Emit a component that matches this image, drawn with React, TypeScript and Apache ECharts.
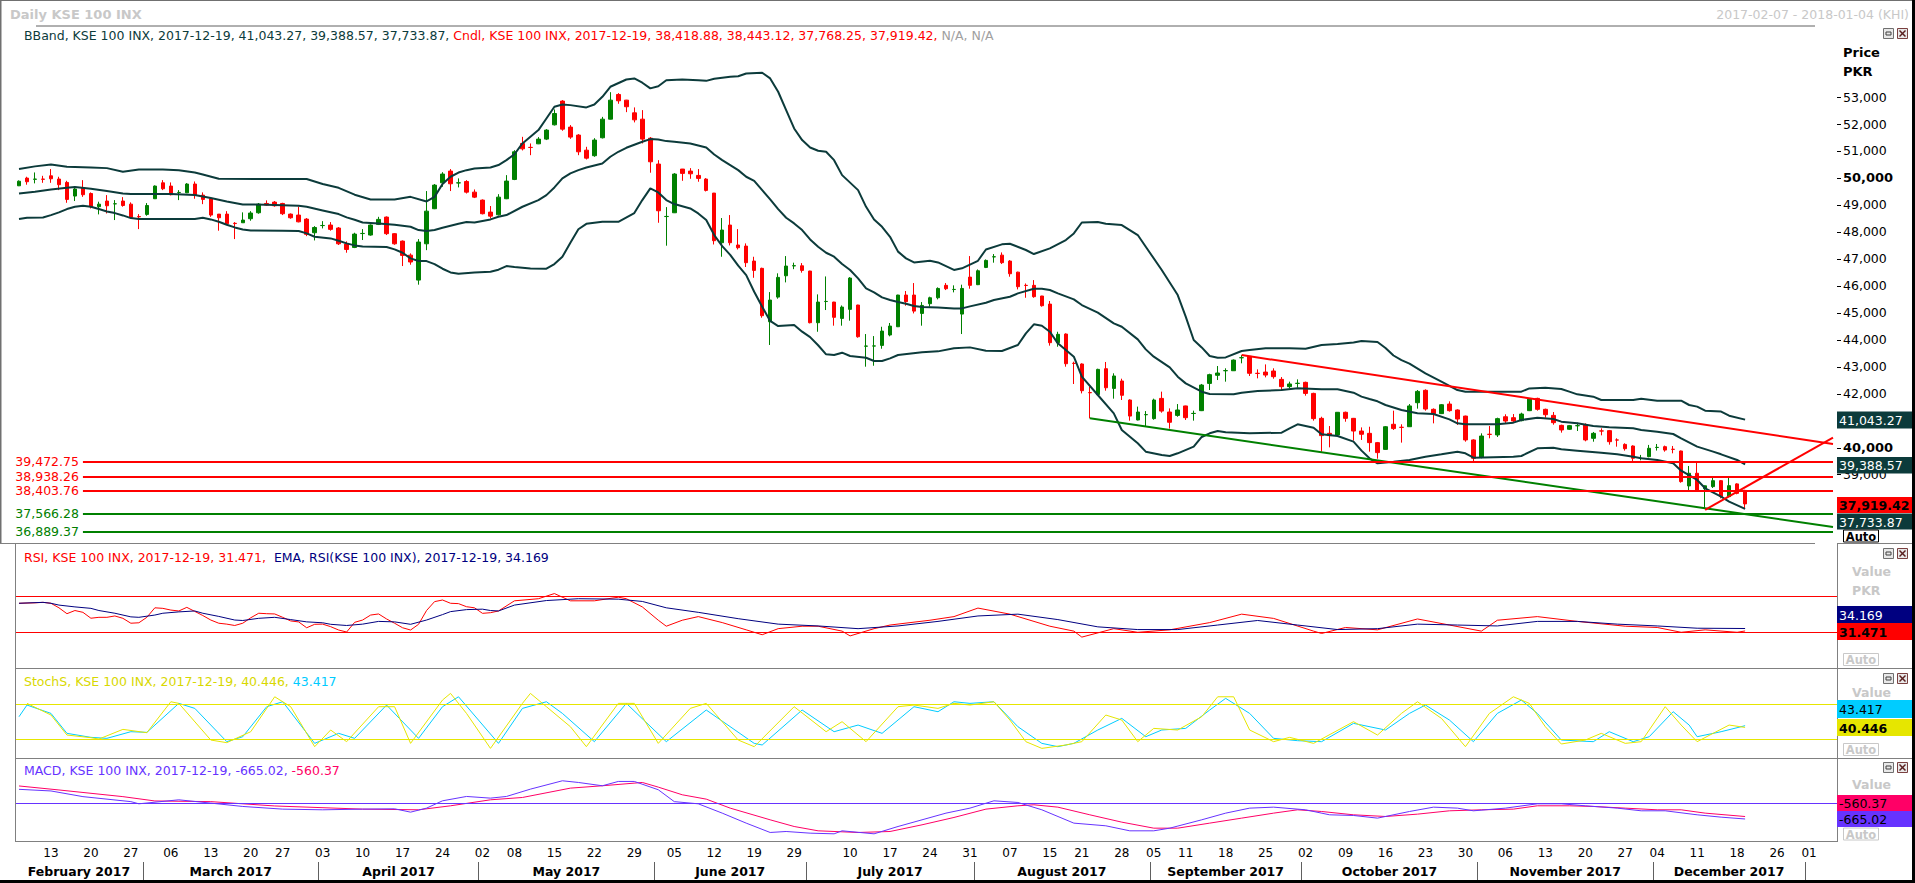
import React, { useEffect, useRef } from "react";
import * as echarts from "echarts";

const FONT = "'DejaVu Sans', Verdana, sans-serif";

// ---------- categories ----------
const HOLIDAYS = ["2017-03-23", "2017-05-01", "2017-06-26", "2017-06-27", "2017-06-28", "2017-08-14", "2017-09-01", "2017-09-04", "2017-12-01", "2017-12-25"];
function buildTradingDays(start: string, end: string, holidays: string[]): string[] {
  const out: string[] = [];
  const d = new Date(start + "T00:00:00Z");
  const e = new Date(end + "T00:00:00Z");
  while (d <= e) {
    const wd = d.getUTCDay();
    const s = d.toISOString().slice(0, 10);
    if (wd !== 0 && wd !== 6 && holidays.indexOf(s) < 0) out.push(s);
    d.setUTCDate(d.getUTCDate() + 1);
  }
  return out;
}
const DATES = buildTradingDays("2017-02-07", "2018-01-04", HOLIDAYS);

const DAY_LABELS = ["2017-02-13", "2017-02-20", "2017-02-27", "2017-03-06", "2017-03-13", "2017-03-20", "2017-03-27", "2017-04-03", "2017-04-10", "2017-04-17", "2017-04-24", "2017-05-02", "2017-05-08", "2017-05-15", "2017-05-22", "2017-05-29", "2017-06-05", "2017-06-12", "2017-06-19", "2017-06-29", "2017-07-10", "2017-07-17", "2017-07-24", "2017-07-31", "2017-08-07", "2017-08-15", "2017-08-21", "2017-08-28", "2017-09-05", "2017-09-11", "2017-09-18", "2017-09-25", "2017-10-02", "2017-10-09", "2017-10-16", "2017-10-23", "2017-10-30", "2017-11-06", "2017-11-13", "2017-11-20", "2017-11-27", "2017-12-04", "2017-12-11", "2017-12-18", "2017-12-26", "2018-01-01"];
const MONTH_NAMES = ["February 2017", "March 2017", "April 2017", "May 2017", "June 2017", "July 2017", "August 2017", "September 2017", "October 2017", "November 2017", "December 2017"];
const LAST_LABELLED_DAY = "2017-12-29";
const PRICE_TICKS = [37000, 38000, 39000, 40000, 41000, 42000, 43000, 44000, 45000, 46000, 47000, 48000, 49000, 50000, 51000, 52000, 53000];
// labels hidden behind the value boxes in the reference are left out
const PRICE_LABELS = [39000, 40000, 42000, 43000, 44000, 45000, 46000, 47000, 48000, 49000, 50000, 51000, 52000, 53000];

// ---------- candles [open, close, low, high], one per trading day ----------
const CANDLES: number[][] = [
  [49710, 49880, 49700, 49910], [49995, 49860, 49750, 50045], [49950, 49960, 49800, 50205], [49960, 49950, 49820, 50080], [50080, 49970, 49820, 50330],
  [49960, 49750, 49550, 50045], [49835, 49205, 49080, 49895], [49330, 49590, 49145, 49650], [49635, 49380, 49300, 49920], [49425, 48935, 48870, 49465],
  [48935, 49030, 48650, 49120], [49145, 48970, 48685, 49365], [49040, 49045, 48440, 49180], [49145, 48980, 48935, 49290], [49030, 48540, 48500, 49095],
  [48570, 48560, 48105, 48660], [48650, 48980, 48600, 49070], [49230, 49700, 49225, 49725], [49820, 49600, 49550, 49920], [49700, 49380, 49355, 49835],
  [49460, 49465, 49180, 49550], [49450, 49775, 49440, 49810], [49775, 49365, 49230, 49870], [49365, 49205, 49030, 49465], [49230, 48625, 48560, 49290],
  [48660, 48525, 48045, 48665], [48660, 48305, 48255, 48770], [48320, 48310, 47735, 48365], [48340, 48440, 48335, 48725], [48490, 48700, 48415, 48770],
  [48710, 49030, 48675, 49070], [49055, 48995, 48970, 49170], [49105, 48970, 48935, 49145], [49055, 48675, 48625, 49080], [48660, 48525, 48490, 48685],
  [48625, 48375, 48355, 48935], [48475, 47910, 47845, 48515], [47970, 48165, 47685, 48215], [48235, 48240, 48130, 48400], [48255, 48095, 48045, 48365],
  [48145, 47560, 47515, 48180], [47550, 47350, 47230, 47650], [47425, 47920, 47400, 47970], [47940, 47945, 47700, 48105], [47885, 48255, 47860, 48280],
  [48280, 48465, 48255, 48560], [48550, 47935, 47885, 48575], [47935, 47560, 47525, 47955], [47660, 47130, 46735, 47685], [47140, 46885, 46785, 47205],
  [46215, 47625, 46045, 47735], [47560, 48770, 47325, 49515], [48860, 49735, 48845, 49775], [49820, 50145, 49675, 50215], [50255, 49785, 49515, 50330],
  [49815, 49820, 49650, 49985], [49870, 49475, 49425, 49920], [49475, 49290, 49255, 49575], [49180, 48675, 48650, 49205], [48735, 48585, 48500, 48960],
  [48635, 49290, 48610, 49400], [49230, 49885, 49215, 50105], [49945, 50970, 49920, 51030], [51280, 51080, 51020, 51525], [51135, 51130, 50845, 51280],
  [51265, 51440, 51255, 51515], [51440, 51775, 51405, 51810], [51970, 52390, 51945, 52540], [52850, 51810, 51750, 52885], [51885, 51515, 51450, 51960],
  [51590, 50970, 50845, 51625], [51030, 50735, 50685, 51155], [50825, 51405, 50785, 51475], [51490, 52180, 51465, 52265], [52180, 52885, 52170, 53180],
  [53095, 52860, 52750, 53145], [52885, 52640, 52440, 52895], [52415, 52155, 52060, 52615], [52180, 51440, 51280, 52515], [51475, 50600, 50195, 51515],
  [50515, 48785, 48340, 50660], [48570, 48575, 47490, 48920], [48710, 50145, 48700, 50180], [50330, 50170, 49895, 50335], [50255, 50155, 49970, 50365],
  [50095, 49985, 49860, 50330], [49960, 49540, 49500, 49995], [49440, 47675, 47535, 49445], [47600, 48070, 47080, 48515], [48255, 47600, 47500, 48625],
  [47515, 47415, 47350, 48105], [47475, 46860, 46700, 47575], [46920, 46575, 46300, 47080], [46650, 44895, 44820, 46675], [44670, 45475, 43810, 45770],
  [45585, 46315, 45525, 46465], [46375, 46735, 46130, 47105], [46740, 46750, 46620, 46860], [46745, 46575, 46490, 46845], [46550, 44635, 44610, 46560],
  [44635, 45400, 44300, 45685], [45420, 45425, 45105, 46350], [45400, 44835, 44525, 45410], [44795, 45215, 44525, 45275], [45130, 46290, 44710, 46325],
  [45290, 44115, 44080, 45300], [43765, 43770, 43005, 44215], [43770, 43775, 43040, 44140], [43795, 44325, 43670, 44485], [44180, 44510, 44130, 44625],
  [44485, 45660, 44475, 45670], [45660, 45415, 45265, 45810], [45660, 45065, 44980, 46105], [44980, 45275, 44525, 45400], [45340, 45560, 45230, 45600],
  [45560, 45905, 45500, 45945], [46020, 45895, 45845, 46105], [45865, 45870, 45760, 46020], [44955, 45905, 44215, 46045], [46325, 46020, 45895, 47105],
  [46045, 46560, 46030, 46610], [46685, 46945, 46660, 46980], [47075, 47080, 46860, 47180], [47140, 46860, 46810, 47240], [46920, 46450, 46340, 46955],
  [46510, 45970, 45870, 46525], [46020, 46015, 45560, 46090], [46020, 45600, 45560, 46215], [45625, 45265, 45230, 45630], [45325, 43895, 43785, 45440],
  [43895, 44205, 43745, 44300], [44215, 43115, 43005, 44240], [43130, 43125, 42363, 43190], [43105, 42115, 42015, 43130], [42045, 42040, 41090, 42265],
  [41970, 42905, 41955, 42930], [42930, 42225, 42115, 43180], [42200, 42660, 41820, 42760], [42475, 41945, 41770, 42560], [41770, 41175, 41005, 41795],
  [41030, 41325, 41015, 41525], [41225, 41230, 40805, 41360], [41080, 41770, 41040, 41820], [41830, 41360, 41300, 42080], [41325, 40945, 40710, 41460],
  [41200, 41400, 41150, 41620], [41550, 41115, 41030, 41560], [41270, 41275, 41005, 41375], [41375, 42325, 41360, 42365], [42385, 42710, 42140, 42745],
  [42685, 42770, 42510, 43030], [42855, 42860, 42450, 42945], [42855, 43250, 42845, 43275], [43335, 43340, 43130, 43435], [43390, 42760, 42660, 43400],
  [42760, 42755, 42573, 42906], [42805, 42695, 42610, 43090], [42845, 42635, 42560, 42945], [42535, 42265, 42130, 42620], [42265, 42365, 42200, 42450],
  [42385, 42390, 42225, 42535], [42425, 42015, 41930, 42450], [42015, 41080, 41005, 42040], [41090, 40450, 39855, 41150], [40535, 40450, 40015, 40805],
  [40475, 41315, 40460, 41325], [41315, 41090, 40965, 41340], [41090, 40620, 40265, 41105], [40620, 40500, 40290, 40755], [40535, 40190, 39855, 40780],
  [40190, 39820, 39595, 40215],
  [39940, 40780, 39930, 40805], [40870, 40710, 40660, 41375], [40760, 40755, 40190, 40870], [40780, 41550, 40770, 41620], [41670, 42090, 41450, 42140],
  [42130, 41435, 41375, 42165], [41425, 41265, 40905, 41460], [41265, 41595, 41250, 41620], [41620, 41375, 41340, 41720], [41400, 41065, 40845, 41425],
  [41175, 40290, 40225, 41190], [40290, 39610, 39485, 40315], [39645, 40435, 39610, 40535], [40500, 40495, 40350, 40805], [40475, 41080, 40400, 41115],
  [41150, 40990, 40920, 41240], [41115, 40990, 40940, 41250], [41005, 41250, 40980, 41300], [41375, 41805, 41360, 41820], [41830, 41425, 41375, 41855],
  [41425, 41225, 41115, 41450], [41200, 40930, 40855, 41325], [40830, 40660, 40560, 40855], [40685, 40820, 40660, 40845], [40815, 40820, 40621, 40930],
  [40845, 40290, 40240, 40905], [40350, 40535, 40225, 40585], [40625, 40620, 40460, 40720], [40635, 40225, 40115, 40660], [40290, 40285, 40041, 40350],
  [40125, 39965, 39895, 40165], [40065, 39610, 39510, 40090], [39605, 39610, 39535, 39735], [39670, 39980, 39645, 40105], [40010, 40015, 39895, 40140],
  [40040, 39915, 39855, 40080], [39945, 39940, 39794, 40066], [39880, 38745, 38705, 39895], [38585, 39055, 38410, 39325], [39055, 38435, 38360, 39450],
  [38480, 38590, 37757, 38600], [38560, 38780, 38510, 38905], [38780, 38190, 38125, 38805], [38190, 38595, 38165, 38930], [38660, 38310, 38275, 38685],
  [38418.88, 37919.42, 37768.25, 38443.12],
];

// ---------- Bollinger band readings [trading-day index, value] ----------
const BB_UPPER = [[0, 50330], [2, 50430], [4, 50500], [6, 50415], [9, 50390], [11, 50365], [13, 50230], [15, 50315], [18, 50315], [20, 50290], [22, 50200], [23, 50130], [25, 49970], [30, 49960], [36, 49960], [38, 49775], [40, 49635], [42, 49380], [44, 49205], [47, 49205], [49, 49300], [51, 49130], [52, 49300], [53, 49775], [54, 50045], [55, 50200], [56, 50290], [57, 50350], [59, 50390], [60, 50480], [61, 50660], [62, 50880], [63, 51280], [65, 51775], [66, 52205], [67, 52640], [68, 52725], [69, 52700], [71, 52615], [72, 52725], [73, 53010], [74, 53380], [76, 53650], [77, 53690], [78, 53530], [79, 53320], [80, 53400], [81, 53625], [83, 53650], [85, 53625], [86, 53600], [87, 53680], [89, 53750], [90, 53770], [91, 53870], [93, 53900], [94, 53690], [95, 53195], [96, 52515], [97, 51835], [98, 51405], [99, 51130], [100, 51010], [101, 50970], [102, 50660], [103, 50105], [105, 49550], [106, 48930], [107, 48460], [108, 48190], [109, 47820], [110, 47270], [111, 47020], [112, 46870], [114, 46930], [115, 46870], [117, 46590], [118, 46650], [120, 46930], [121, 47350], [123, 47540], [124, 47560], [126, 47330], [127, 47180], [129, 47390], [131, 47700], [132, 47945], [133, 48350], [135, 48365], [136, 48305], [138, 48255], [140, 47885], [141, 47450], [143, 46590], [145, 45660], [146, 44860], [147, 43995], [148, 43720], [149, 43400], [150, 43340], [151, 43350], [153, 43585], [154, 43620], [156, 43685], [159, 43685], [161, 43670], [163, 43810], [165, 43845], [167, 43905], [168, 43955], [170, 43920], [171, 43700], [172, 43420], [173, 43250], [174, 43120], [176, 42760], [178, 42450], [180, 42140], [181, 42080], [188, 42080], [189, 42200], [191, 42225], [193, 42180], [194, 42080], [195, 41980], [197, 41895], [198, 41770], [202, 41770], [203, 41820], [205, 41745], [208, 41745], [209, 41585], [210, 41525], [211, 41375], [213, 41340], [214, 41190], [216, 41043.27]];
const BB_MIDDLE = [[0, 49427], [2, 49489], [4, 49575], [6, 49637], [7, 49662], [9, 49600], [11, 49514], [13, 49427], [14, 49402], [19, 49402], [22, 49365], [24, 49254], [26, 49131], [28, 49020], [31, 49007], [35, 48970], [36, 48933], [38, 48797], [40, 48661], [41, 48538], [42, 48451], [43, 48352], [45, 48316], [47, 48266], [49, 48192], [50, 48069], [51, 48031], [52, 48069], [53, 48155], [54, 48229], [55, 48303], [56, 48365], [57, 48352], [59, 48464], [60, 48562], [61, 48624], [63, 48933], [65, 49180], [66, 49365], [67, 49649], [68, 49983], [69, 50168], [70, 50291], [71, 50390], [73, 50539], [74, 50786], [75, 50971], [76, 51119], [78, 51341], [79, 51440], [80, 51428], [81, 51366], [82, 51341], [84, 51279], [85, 51205], [86, 51131], [87, 50872], [88, 50662], [89, 50477], [90, 50291], [91, 50045], [92, 49896], [93, 49550], [94, 49205], [95, 48847], [96, 48526], [97, 48316], [98, 48069], [99, 47723], [100, 47451], [101, 47229], [102, 47081], [103, 46809], [104, 46587], [105, 46278], [106, 45907], [107, 45759], [108, 45574], [109, 45475], [110, 45401], [111, 45339], [112, 45253], [113, 45216], [115, 45203], [117, 45166], [118, 45166], [119, 45240], [121, 45376], [122, 45475], [124, 45599], [125, 45722], [127, 45895], [128, 45895], [129, 45846], [130, 45722], [132, 45500], [133, 45290], [135, 45006], [137, 44610], [138, 44487], [140, 44018], [141, 43647], [142, 43376], [144, 42980], [145, 42635], [146, 42387], [148, 42079], [149, 41992], [152, 41980], [153, 42042], [155, 42103], [158, 42140], [160, 42202], [163, 42165], [165, 42165], [167, 42042], [168, 41894], [169, 41807], [170, 41721], [171, 41585], [173, 41400], [175, 41276], [177, 41252], [179, 41054], [180, 40906], [181, 40869], [185, 40869], [187, 40931], [188, 41029], [190, 41115], [192, 41066], [193, 40967], [195, 40906], [197, 40807], [199, 40757], [202, 40720], [203, 40659], [205, 40597], [207, 40510], [208, 40350], [210, 40041], [212, 39856], [213, 39757], [215, 39547], [216, 39388.57]];
const BB_LOWER = [[0, 48476], [1, 48526], [3, 48538], [4, 48624], [5, 48723], [6, 48847], [7, 48933], [8, 48970], [9, 48933], [10, 48847], [11, 48760], [12, 48698], [13, 48612], [14, 48513], [15, 48476], [22, 48476], [23, 48526], [24, 48464], [25, 48377], [26, 48266], [27, 48167], [28, 48093], [29, 48056], [33, 48044], [35, 48032], [36, 47945], [37, 47822], [39, 47760], [40, 47673], [41, 47575], [42, 47501], [43, 47463], [46, 47439], [47, 47352], [48, 47229], [49, 47019], [50, 46920], [51, 46920], [52, 46809], [53, 46636], [54, 46500], [55, 46451], [57, 46500], [59, 46525], [60, 46600], [61, 46735], [62, 46700], [64, 46648], [66, 46636], [67, 46809], [68, 47080], [69, 47600], [70, 48100], [71, 48300], [73, 48377], [75, 48377], [77, 48700], [78, 49180], [79, 49612], [80, 49464], [81, 49180], [82, 49032], [84, 48871], [85, 48686], [86, 48439], [87, 47883], [88, 47476], [89, 47150], [90, 46750], [91, 46400], [92, 45784], [93, 45228], [94, 44700], [95, 44512], [97, 44549], [98, 44302], [99, 44100], [100, 43800], [101, 43462], [102, 43437], [103, 43524], [104, 43400], [106, 43338], [107, 43215], [108, 43215], [109, 43314], [110, 43437], [113, 43536], [115, 43573], [117, 43690], [119, 43721], [121, 43598], [123, 43585], [125, 43808], [126, 44240], [127, 44574], [128, 44524], [129, 44302], [130, 43870], [132, 43376], [133, 42635], [135, 41955], [137, 41276], [138, 40659], [140, 40165], [141, 39856], [143, 39732], [144, 39695], [145, 39794], [147, 40041], [148, 40400], [149, 40535], [150, 40621], [151, 40572], [154, 40535], [158, 40560], [159, 40720], [160, 40869], [162, 40745], [163, 40498], [165, 40436], [167, 40226], [168, 39893], [169, 39609], [170, 39424], [172, 39485], [174, 39547], [176, 39670], [178, 39757], [180, 39856], [181, 39794], [182, 39634], [187, 39670], [188, 39695], [190, 39980], [192, 40004], [193, 39942], [195, 39893], [198, 39819], [200, 39757], [202, 39670], [203, 39609], [205, 39547], [207, 39424], [208, 39152], [210, 38806], [211, 38497], [213, 38188], [214, 38003], [216, 37733.87]];

// ---------- drawn objects ----------
const LEVELS_RED = [39472.75, 38938.26, 38403.76];
const LEVELS_GREEN = [37566.28, 36889.37];
const TREND_RED_DOWN = [[153, 43435], [227, 40140]];
const TREND_GREEN_DOWN = [[134, 41090], [227, 37065]];
const TREND_RED_UP = [[211, 37700], [227, 40380]];

// ---------- RSI ----------
const RSI = [[0, 62], [2, 62.5], [3, 63], [4, 62], [5, 57], [6, 50.5], [7, 54], [8, 52], [9, 45.5], [10, 46.5], [11, 46.5], [12, 48], [13, 45.4], [14, 40], [15, 40.5], [16, 46.5], [17, 57], [18, 56.4], [19, 54.5], [20, 53.5], [21, 57.5], [22, 53], [23, 48.5], [24, 43.5], [25, 40], [26, 39], [27, 37.5], [28, 40], [29, 46], [30, 51], [31, 50.5], [32, 50.2], [33, 46.5], [34, 42.5], [35, 41.4], [36, 35], [37, 38.8], [38, 39], [39, 36.2], [40, 32.5], [41, 30.3], [42, 41], [43, 43.5], [44, 49], [45, 50.2], [46, 44.7], [47, 40], [48, 35], [49, 32.5], [50, 38.8], [51, 54], [52, 63.8], [53, 65.6], [54, 62], [55, 61.6], [56, 58.2], [57, 57], [58, 50.9], [59, 51.6], [60, 53.5], [62, 64.7], [65, 67], [67, 72.7], [69, 64.7], [72, 64.7], [75, 68.7], [76, 67], [78, 58], [80, 43.3], [81, 36.7], [83, 43.3], [85, 47.3], [88, 40.7], [91, 32.7], [93, 27.3], [95, 34], [98, 36.7], [100, 36.7], [103, 31.3], [104, 26], [107, 34], [109, 38], [114, 43.3], [117, 47.3], [120, 56.7], [124, 50], [129, 36.7], [132, 31.3], [133, 24.7], [137, 34], [140, 30], [144, 32.7], [149, 40.7], [153, 50], [157, 45.3], [162, 31.3], [163, 28.7], [166, 35.3], [170, 32.7], [175, 44.7], [179, 38], [183, 31.3], [185, 43.3], [190, 47.3], [195, 42], [201, 36.7], [205, 35.3], [208, 30], [211, 32.7], [215, 30], [216, 31.471]];
const RSI_EMA = [[0, 62], [3, 63], [4, 62], [5, 60], [7, 58], [9, 56.4], [10, 54], [12, 51], [14, 47], [15, 46.5], [17, 49], [18, 51], [20, 52.5], [22, 53.5], [23, 51], [25, 47.5], [27, 43.5], [28, 43], [30, 45.4], [32, 46.5], [34, 44], [36, 41.5], [38, 40.5], [39, 38.8], [41, 37.5], [43, 39], [45, 42], [47, 41.5], [49, 38.8], [51, 43.5], [53, 49.5], [54, 52.8], [56, 55], [58, 55.5], [59, 54], [60, 53.5], [62, 60], [66, 65], [70, 67], [75, 66.5], [78, 64], [81, 57], [85, 52], [90, 45], [95, 39], [100, 37], [105, 34], [110, 37], [115, 42], [120, 48], [125, 50], [130, 44], [135, 36], [140, 33], [145, 33], [150, 38], [155, 43], [160, 38], [165, 33], [170, 34], [175, 39], [180, 38], [185, 37], [190, 42], [195, 42], [200, 39], [205, 37], [210, 34.5], [216, 34.169]];
const RSI_LEVELS = [70, 30];

// ---------- Stochastic ----------
const STOCH_K = [[1, 81.7], [4, 61.7], [6, 27.4], [9, 22.8], [10, 20.5], [13, 37.1], [16, 31.4], [19, 84.5], [20, 81.7], [24, 18.8], [26, 14.3], [29, 33.1], [32, 93], [34, 76], [37, 7.4], [39, 36], [41, 16], [45, 76], [47, 76], [49, 13.1], [53, 87.4], [54, 98.8], [56, 64.5], [59, 4.5], [63, 81.7], [64, 98.8], [66, 76], [69, 41.7], [71, 7.4], [75, 81.7], [77, 81.7], [80, 13.1], [84, 73.1], [86, 81.7], [90, 18.8], [92, 7.4], [97, 76], [101, 33.1], [103, 50.3], [106, 16], [110, 76], [112, 78.8], [115, 73.1], [117, 81.7], [119, 78.8], [122, 84.5], [124, 53.1], [126, 16], [128, 4.5], [131, 10.3], [133, 16], [136, 61.7], [138, 53.1], [140, 16], [142, 38.8], [145, 36], [148, 58.8], [150, 93], [152, 93], [154, 36], [157, 16], [159, 23.4], [162, 13.1], [167, 50.3], [170, 27.4], [173, 64.5], [175, 84.5], [178, 56], [181, 7.4], [184, 64.5], [187, 93], [189, 81.7], [191, 41.7], [193, 12], [196, 18.8], [198, 30.3], [201, 13.1], [203, 16], [206, 76], [208, 44.5], [210, 16], [212, 30.3], [214, 44.5], [216, 40.446]];
const STOCH_D = [[0, 58.8], [1, 78.8], [4, 64.5], [6, 30.3], [9, 23.4], [11, 21.7], [14, 33.1], [16, 32], [20, 81.7], [22, 73.1], [26, 16], [28, 24.5], [31, 76], [33, 84.5], [37, 13.1], [40, 30.3], [42, 21.7], [46, 78.8], [50, 21.7], [53, 76], [55, 93], [60, 13.1], [63, 73.1], [66, 84.5], [68, 64.5], [72, 16], [76, 81.7], [81, 16], [86, 70.3], [92, 13.1], [93, 10.3], [98, 70.3], [102, 33.1], [105, 44.5], [108, 30.3], [112, 76], [115, 67.4], [117, 84.5], [119, 81.7], [122, 84.5], [125, 41.7], [128, 13.1], [130, 7.4], [132, 13.1], [135, 36], [138, 56], [141, 24.5], [143, 36], [146, 38.8], [149, 70.3], [151, 90.3], [154, 64.5], [157, 21.7], [160, 17.7], [163, 16], [167, 47.4], [171, 36], [174, 64.5], [176, 78.8], [179, 53.1], [182, 16], [185, 64.5], [188, 87.4], [190, 64.5], [193, 18.8], [197, 16], [199, 33.1], [202, 16], [204, 24.5], [207, 67.4], [209, 44.5], [210, 24.5], [213, 33.1], [216, 43.417]];
const STOCH_LEVELS = [80, 20];

// ---------- MACD ----------
const MACD = [[0, 593], [4, 523], [8, 283], [14, 71], [15, -21], [20, 148], [24, 8], [28, -134], [33, -247], [38, -276], [43, -247], [47, -233], [49, -375], [51, -205], [53, 106], [56, 290], [59, 219], [61, 290], [64, 601], [68, 955], [70, 884], [73, 743], [75, 927], [77, 927], [80, 574], [82, 71], [85, -21], [88, -417], [91, -841], [94, -1237], [96, -1195], [99, -1266], [102, -1294], [103, -1167], [107, -1294], [110, -983], [113, -700], [116, -417], [119, -205], [122, 106], [125, 35], [128, -276], [132, -841], [136, -954], [139, -1167], [142, -1167], [144, -1054], [148, -700], [151, -417], [154, -205], [157, -163], [161, -276], [164, -488], [167, -516], [170, -629], [174, -347], [177, -163], [180, -205], [182, -318], [186, -205], [190, -21], [193, -21], [196, -106], [200, -205], [203, -318], [206, -318], [210, -488], [213, -587], [216, -665.02]];
const MACD_SIGNAL = [[0, 735], [5, 566], [13, 283], [17, 99], [24, 71], [32, -113], [43, -247], [50, -276], [54, -106], [59, 148], [63, 247], [69, 643], [73, 743], [78, 884], [80, 686], [83, 361], [86, 177], [89, -205], [94, -700], [97, -983], [100, -1167], [105, -1237], [109, -1195], [113, -912], [117, -600], [121, -247], [125, -106], [127, -63], [130, -163], [134, -488], [138, -799], [142, -1054], [145, -1054], [149, -841], [153, -629], [157, -417], [160, -276], [163, -347], [167, -488], [171, -559], [175, -460], [179, -318], [183, -276], [187, -247], [190, -106], [194, -106], [197, -134], [201, -205], [205, -276], [208, -276], [211, -417], [216, -560.37]];

// ---------- helpers ----------
function fmt(v: number, d = 2): string {
  const s = Math.abs(v).toFixed(d);
  const [a, b] = s.split(".");
  const withComma = a.replace(/\B(?=(\d{3})+(?!\d))/g, ",");
  return (v < 0 ? "-" : "") + withComma + (b ? "." + b : "");
}
const last = (arr: number[][]) => arr[arr.length - 1][1];

const COL = {
  teal: "#0c3b3b",
  up: "#008000",
  down: "#ff0000",
  navy: "#000080",
  yellow: "#e6e600",
  cyan: "#00ccff",
  purple: "#6633ff",
  pink: "#ff0066",
  gray: "#c8c8c8",
  frame: "#808080",
};

export default function App() {
  const ref = useRef<HTMLDivElement>(null);
  useEffect(() => {
    if (!ref.current) return;
    const chart = echarts.init(ref.current, null, { renderer: "svg" });

    const N = DATES.length;
    const L = 15;
    const W = 1822;
    const lastIdx = CANDLES.length - 1;

    // month spans
    const months: any[] = [];
    DATES.forEach((d, i) => {
      const key = d.slice(0, 7);
      const m = months.length ? months[months.length - 1] : null;
      if (!m || m.key !== key) months.push({ key, first: i, last: i });
      else m.last = i;
    });
    const boundaries = months.slice(1).map((m) => m.first - 0.5);
    const lastLabelled = DATES.indexOf(LAST_LABELLED_DAY);
    const centers = months.slice(0, MONTH_NAMES.length).map((m) => (m.first + Math.min(m.last, lastLabelled)) / 2);

    const lastC = CANDLES[lastIdx];

    const hidY = (gi: number, min: number, max: number) => ({
      type: "value", gridIndex: gi, min, max, position: "right",
      axisLine: { show: false }, axisTick: { show: false }, axisLabel: { show: false }, splitLine: { show: false },
    });
    const hidX = (gi: number) => ({
      type: "category", gridIndex: gi, data: DATES, boundaryGap: true,
      axisLine: { show: false }, axisTick: { show: false }, axisLabel: { show: false }, splitLine: { show: false },
    });
    const lineS = (name: string, data: any, xi: number, color: string, width: number, extra: any = {}) => ({
      type: "line", name, data, xAxisIndex: xi, yAxisIndex: xi, symbol: "none", showSymbol: false, silent: true,
      lineStyle: { color, width }, itemStyle: { color }, z: 3, ...extra,
    });
    const hMark = (vals: number[], color: string) => ({
      symbol: ["none", "none"], silent: true, label: { show: false },
      lineStyle: { color, width: 1, type: "solid" },
      data: vals.map((v) => ({ yAxis: v })),
    });

    const levelMarks = [
      ...LEVELS_RED.map((v) => ({ v, c: "#ff0000" })),
      ...LEVELS_GREEN.map((v) => ({ v, c: "#008000" })),
    ].map(({ v, c }) => [
      { coord: [DATES[8], v], lineStyle: { color: c, width: 2, type: "solid" }, label: { show: true, position: "start", distance: 4, formatter: fmt(v), color: c, fontSize: 12.5, fontFamily: FONT } },
      { coord: [DATES[N - 1], v] },
    ]);

    // ---------- graphics ----------
    const G: any[] = [];
    const hl = (x1: number, x2: number, y: number, c: string, w = 1) => G.push({ type: "line", silent: true, z: 100, shape: { x1, y1: y, x2, y2: y }, style: { stroke: c, lineWidth: w } });
    const vl = (x: number, y1: number, y2: number, c: string, w = 1) => G.push({ type: "line", silent: true, z: 100, shape: { x1: x, y1, x2: x, y2 }, style: { stroke: c, lineWidth: w } });
    const txt = (x: number, y: number, t: string, fill: string, size = 12.5, weight = "normal", align = "left") =>
      G.push({ type: "text", silent: true, z: 101, x, y, style: { text: t, fill, fontSize: size, fontFamily: FONT, fontWeight: weight, align, verticalAlign: "middle", textAlign: align, textVerticalAlign: "middle" } });
    const rich = (x: number, y: number, parts: [string, string][]) => {
      const richDef: any = {};
      let t = "";
      parts.forEach(([s, c], i) => {
        richDef["p" + i] = { fill: c, color: c, fontSize: 12.5, fontFamily: FONT };
        t += "{p" + i + "|" + s + "}";
      });
      G.push({ type: "text", silent: true, z: 101, x, y, style: { text: t, rich: richDef, fontSize: 12.5, fontFamily: FONT, verticalAlign: "middle", textVerticalAlign: "middle" } });
    };
    const box = (y: number, h: number, bg: string, t: string, fg: string, weight = "normal") => {
      G.push({ type: "rect", silent: true, z: 100, shape: { x: 1837, y, width: 75, height: h }, style: { fill: bg } });
      txt(1839, y + h / 2 + 0.5, t, fg, 12.5, weight);
    };
    const autoBox = (y: number, dark: boolean) => {
      G.push({ type: "rect", silent: true, z: 100, shape: { x: 1843.5, y: y + 0.5, width: 35, height: 12 }, style: { fill: "#fff", stroke: dark ? "#000" : "#c8c8c8", lineWidth: 1 } });
      txt(1861, y + 7, "Auto", dark ? "#000" : "#c8c8c8", 11.5, "bold", "center");
    };
    const buttons = (y: number) => {
      G.push({ type: "rect", silent: true, z: 100, shape: { x: 1883.5, y: y + 0.5, width: 10, height: 10 }, style: { fill: "#e8e8e8", stroke: "#707070", lineWidth: 1 } });
      G.push({ type: "rect", silent: true, z: 100, shape: { x: 1886, y: y + 4, width: 5, height: 3 }, style: { fill: "none", stroke: "#404040", lineWidth: 1 } });
      G.push({ type: "rect", silent: true, z: 100, shape: { x: 1897.5, y: y + 0.5, width: 10, height: 10 }, style: { fill: "#e8e8e8", stroke: "#7a4040", lineWidth: 1 } });
      G.push({ type: "line", silent: true, z: 101, shape: { x1: 1899.5, y1: y + 2.5, x2: 1905.5, y2: y + 8.5 }, style: { stroke: "#5a2020", lineWidth: 1.5 } });
      G.push({ type: "line", silent: true, z: 101, shape: { x1: 1905.5, y1: y + 2.5, x2: 1899.5, y2: y + 8.5 }, style: { stroke: "#5a2020", lineWidth: 1.5 } });
    };

    const day = DATES[lastIdx];

    // window frame
    vl(0.5, 0, 543, "#707070", 2);
    hl(0, 1915, 0.5, "#707070", 1);
    vl(1913.5, 0, 883, "#000", 3);
    hl(0, 1915, 881.5, "#000", 3);
    // title row
    txt(10, 14, "Daily KSE 100 INX", COL.gray, 13, "bold");
    txt(1909, 14, DATES[0] + " - " + DATES[N - 1] + " (KHI)", COL.gray, 12.5, "normal", "right");
    hl(36, 1815, 26, "#606060", 1);
    buttons(28);
    // main legend
    rich(24, 35, [
      ["BBand, KSE 100 INX, " + day + ", " + fmt(last(BB_UPPER)) + ", " + fmt(last(BB_MIDDLE)) + ", " + fmt(last(BB_LOWER)) + ", ", COL.teal],
      ["Cndl, KSE 100 INX, " + day + ", " + fmt(lastC[0]) + ", " + fmt(lastC[3]) + ", " + fmt(lastC[2]) + ", " + fmt(lastC[1]) + ", ", "#ff0000"],
      ["N/A, N/A", "#a0a0a0"],
    ]);
    txt(1843, 52, "Price", "#000", 13, "bold");
    txt(1843, 71, "PKR", "#000", 13, "bold");
    box(411.5, 17, COL.teal, fmt(last(BB_UPPER)), "#fff");
    box(457, 16.5, COL.teal, fmt(last(BB_MIDDLE)), "#fff");
    box(497, 16, "#ff0000", fmt(lastC[1]), "#000", "bold");
    box(513.5, 16, COL.teal, fmt(last(BB_LOWER)), "#fff");
    autoBox(529.5, true);

    // panel frames
    hl(0, 1815, 543.5, COL.frame, 1);
    hl(1837, 1912, 543.5, COL.frame, 1);
    hl(15, 1912, 668.5, COL.frame, 1);
    hl(15, 1912, 758.5, COL.frame, 1);
    hl(15, 1837, 841.5, COL.frame, 1);
    vl(15.5, 543, 842, COL.frame, 1);
    vl(1837.5, 543, 842, COL.frame, 1);

    // RSI panel
    rich(24, 557, [
      ["RSI, KSE 100 INX, " + day + ", " + last(RSI).toFixed(3) + ",  ", "#ff0000"],
      ["EMA, RSI(KSE 100 INX), " + day + ", " + last(RSI_EMA).toFixed(3), COL.navy],
    ]);
    buttons(548);
    txt(1852, 571, "Value", COL.gray, 12.5, "bold");
    txt(1852, 590, "PKR", COL.gray, 12.5, "bold");
    box(606, 17, COL.navy, last(RSI_EMA).toFixed(3), "#fff");
    box(623, 17, "#ff0000", last(RSI).toFixed(3), "#000", "bold");
    autoBox(653, false);

    // Stoch panel
    rich(24, 681, [
      ["StochS, KSE 100 INX, " + day + ", " + last(STOCH_K).toFixed(3) + ", ", "#d8d800"],
      [last(STOCH_D).toFixed(3), COL.cyan],
    ]);
    buttons(673);
    txt(1852, 692, "Value", COL.gray, 12.5, "bold");
    box(700, 18, COL.cyan, last(STOCH_D).toFixed(3), "#000");
    box(719, 17, COL.yellow, last(STOCH_K).toFixed(3), "#000", "bold");
    autoBox(743, false);

    // MACD panel
    rich(24, 770, [
      ["MACD, KSE 100 INX, " + day + ", " + last(MACD).toFixed(2) + ", ", COL.purple],
      [last(MACD_SIGNAL).toFixed(2), COL.pink],
    ]);
    buttons(762);
    txt(1852, 784, "Value", COL.gray, 12.5, "bold");
    box(795, 16, COL.pink, last(MACD_SIGNAL).toFixed(2), "#000");
    box(811, 16, COL.purple, last(MACD).toFixed(2), "#000");
    autoBox(827.5, false);

    const option: any = {
      animation: false,
      backgroundColor: "#ffffff",
      textStyle: { fontFamily: FONT },
      grid: [
        { left: L, width: W, top: 40, height: 503 },
        { left: L, width: W, top: 568.8, height: 90.7 },
        { left: L, width: W, top: 692.7, height: 58.3 },
        { left: L, width: W, top: 775, height: 66.7 },
        { left: L, width: W, top: 842, height: 20 },
      ],
      xAxis: [
        hidX(0),
        hidX(1),
        hidX(2),
        {
          type: "category", gridIndex: 3, data: DATES, boundaryGap: true,
          axisLine: { show: false }, axisTick: { show: false }, splitLine: { show: false },
          axisLabel: {
            interval: (_i: number, v: string) => DAY_LABELS.indexOf(v) >= 0,
            formatter: (v: string) => v.slice(8, 10),
            color: "#000", fontSize: 12, fontFamily: FONT, margin: 5,
          },
        },
        {
          type: "value", gridIndex: 4, position: "top", min: -0.5, max: N - 0.5,
          axisLine: { show: false }, splitLine: { show: false }, axisLabel: { show: false },
          axisTick: { show: true, inside: true, length: 8, customValues: boundaries, lineStyle: { color: "#606060" } },
        },
        {
          type: "value", gridIndex: 4, position: "bottom", min: -0.5, max: N - 0.5,
          axisLine: { show: false }, splitLine: { show: false },
          axisTick: { show: true, length: 18, customValues: boundaries, lineStyle: { color: "#606060" } },
          axisLabel: {
            customValues: centers, margin: 3, color: "#000", fontSize: 12.5, fontWeight: "bold", fontFamily: FONT,
            formatter: (v: number) => {
              const k = centers.findIndex((c) => Math.abs(c - v) < 0.01);
              return k >= 0 ? MONTH_NAMES[k] : "";
            },
          },
        },
      ],
      yAxis: [
        {
          type: "value", gridIndex: 0, position: "right", min: 36470, max: 55114,
          axisLine: { show: false }, splitLine: { show: false },
          axisTick: { show: true, length: 4, customValues: PRICE_TICKS, lineStyle: { color: "#000" } },
          axisLabel: {
            customValues: PRICE_LABELS, margin: 6, color: "#000", fontSize: 12.5, fontFamily: FONT,
            formatter: (v: number) => (v % 10000 === 0 ? "{b|" + fmt(v, 0) + "}" : fmt(v, 0)),
            rich: { b: { fontWeight: "bold", fontSize: 13, color: "#000", fontFamily: FONT } },
          },
        },
        hidY(1, 0, 100),
        hidY(2, 0, 100),
        hidY(3, -1628, 1200),
        hidY(4, 0, 1),
      ],
      graphic: { elements: G },
      series: [
        {
          type: "candlestick", name: "Cndl", xAxisIndex: 0, yAxisIndex: 0, data: CANDLES, barWidth: 4, silent: true, z: 2,
          itemStyle: { color: COL.up, color0: COL.down, borderColor: COL.up, borderColor0: COL.down, borderWidth: 1 },
        },
        lineS("BB upper", BB_UPPER, 0, COL.teal, 2),
        lineS("BB middle", BB_MIDDLE, 0, COL.teal, 2),
        lineS("BB lower", BB_LOWER, 0, COL.teal, 2),
        lineS("Trend red down", TREND_RED_DOWN, 0, "#ff0000", 2),
        lineS("Trend green down", TREND_GREEN_DOWN, 0, "#008000", 2),
        lineS("Trend red up", TREND_RED_UP, 0, "#ff0000", 2),
        {
          type: "line", name: "levels", xAxisIndex: 0, yAxisIndex: 0, data: [], silent: true, z: 4,
          markLine: { symbol: ["none", "none"], silent: true, data: levelMarks },
        },
        lineS("RSI", RSI, 1, "#ff0000", 1, { markLine: hMark(RSI_LEVELS, "#ff0000") }),
        lineS("RSI EMA", RSI_EMA, 1, COL.navy, 1),
        lineS("Stoch D", STOCH_D, 2, COL.cyan, 1, { markLine: hMark(STOCH_LEVELS, COL.yellow) }),
        lineS("Stoch K", STOCH_K, 2, COL.yellow, 1),
        lineS("MACD signal", MACD_SIGNAL, 3, COL.pink, 1),
        lineS("MACD", MACD, 3, COL.purple, 1, { markLine: hMark([0], COL.purple) }),
      ],
    };
    chart.setOption(option);
    return () => chart.dispose();
  }, []);

  return <div ref={ref} style={{ position: "fixed", left: 0, top: 0, width: 1915, height: 883, background: "#fff" }} />;
}
